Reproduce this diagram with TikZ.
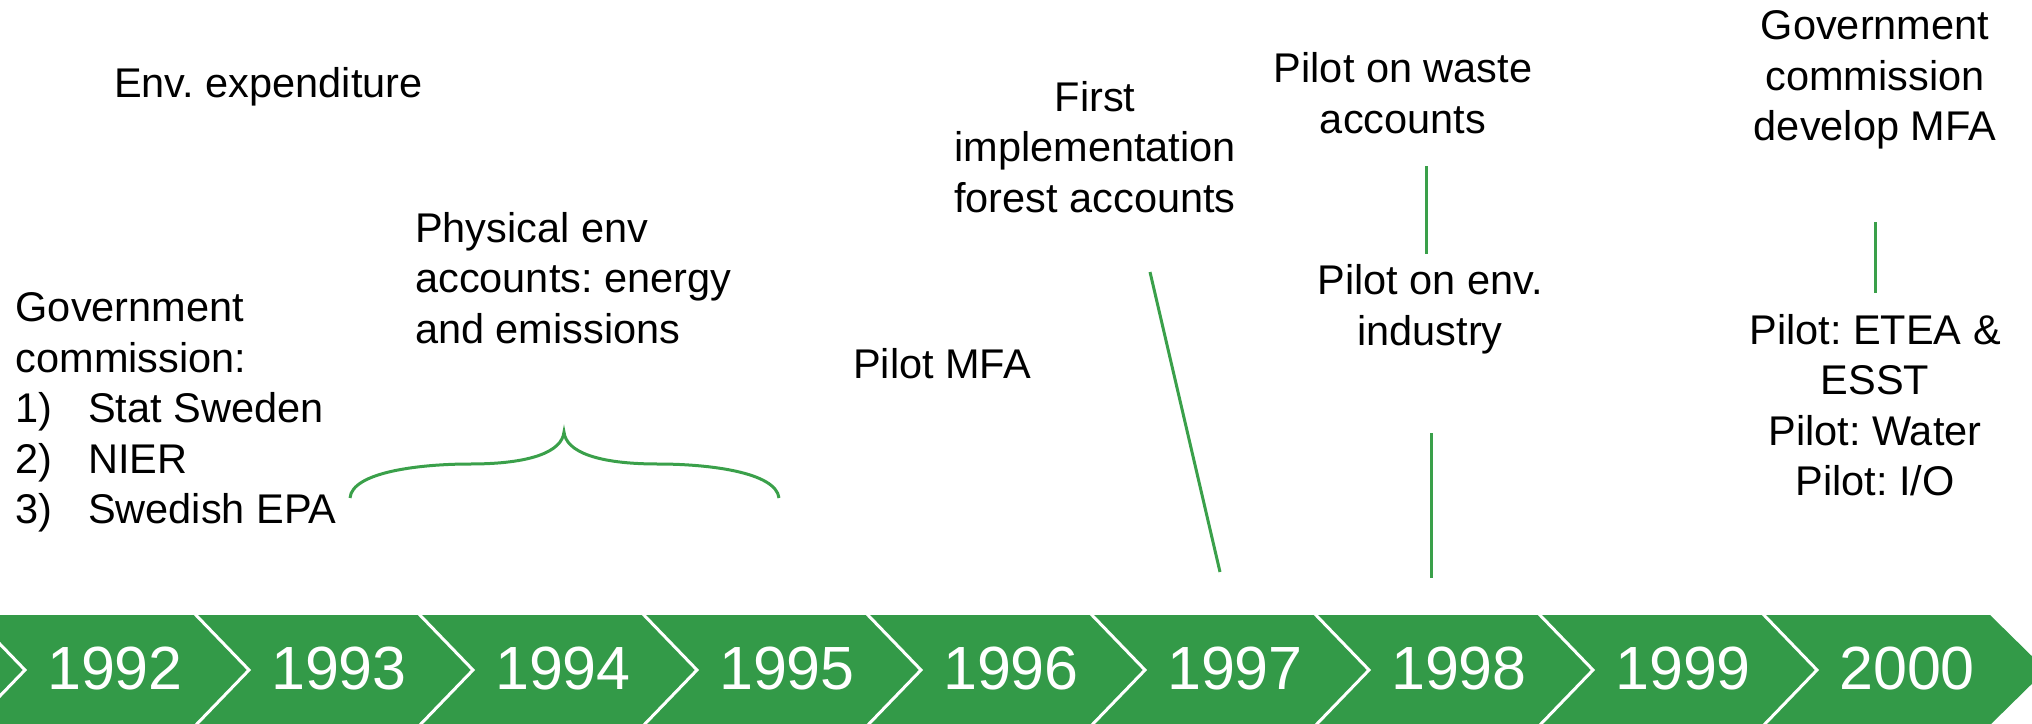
\documentclass[tikz,border=0pt]{standalone}
\usepackage{fontspec}
\setmainfont{Liberation Sans}
\frenchspacing
\definecolor{tlgreen}{RGB}{51,154,72}
\definecolor{lngreen}{RGB}{58,160,74}
\begin{document}
\begin{tikzpicture}[x=1pt,y=-1pt,
  txt/.style={inner sep=0pt, font=\fontsize{41.5}{50.5}\selectfont\frenchspacing, text=black},
  yr/.style={inner sep=0pt, font=\fontsize{61}{61}\selectfont, text=white},
  sep/.style={draw=white, line width=3pt},
  lnk/.style={draw=lngreen, line width=3pt}]
\useasboundingbox (0,0) rectangle (2032,723);
\clip (0,0) rectangle (2032,723);
% band
\fill[tlgreen] (-10,615) -- (1990,615) -- (2046,670) -- (1990,725) -- (-10,725) -- cycle;
\foreach \k in {-1,0,...,7}{
  \draw[sep] ({193+224*\k},612) -- ({249+224*\k},670) -- ({193+224*\k},728);
}
\foreach \y [count=\i from 0] in {1992,1993,1994,1995,1996,1997,1998,1999,2000}{
  \node[yr] (y\y) at ({115+224*\i},668) {\y};
}
% texts
\node[txt, anchor=west] (envexp) at (114,87) {Env. expenditure};
\node[txt, anchor=west, align=left] (gov) at (15.5,412.5) {Government\\commission:\\\makebox[72.5pt][l]{1)}Stat Sweden\\\makebox[72.5pt][l]{2)}NIER\\\makebox[72.5pt][l]{3)}Swedish EPA};
\node[txt, anchor=west, align=left] (phys) at (415,278) {Physical env\\accounts: energy\\and emissions};
\node[txt, anchor=west] (pmfa) at (853,364) {Pilot MFA};
\node[txt, align=center] (first) at (1095,147) {First\\implementation\\forest accounts};
\node[txt, align=center] (waste) at (1403,93) {Pilot on waste\\accounts};
\node[txt, align=center] (envind) at (1430,309.5) {Pilot on env.\\industry};
\node[txt, align=center] (gov2) at (1875,80) {Government\\commission\\develop MFA};
\node[txt, align=center] (etea) at (1875,405) {Pilot: ETEA \&\\ESST\\Pilot: Water\\Pilot: I/O};
% brace
\draw[lnk] (350,498) .. controls (352,472) and (420,464) .. (470,464)
  .. controls (530,464) and (562,452) .. (564,432)
  .. controls (566,452) and (598,464) .. (658,464)
  .. controls (708,464) and (776,472) .. (779,498);
% connector lines
\coordinate (a1) at (1150,272);
\coordinate (a2) at (1220,572);
\draw[lnk] (a1) -- (a2);
\coordinate (b1) at (1426,166);
\coordinate (b2) at (1426,254);
\draw[lnk] (b1) -- (b2);
\coordinate (c1) at (1431,433);
\coordinate (c2) at (1431,578);
\draw[lnk] (c1) -- (c2);
\coordinate (d1) at (1875,222);
\coordinate (d2) at (1875,293);
\draw[lnk] (d1) -- (d2);
\end{tikzpicture}
\end{document}
